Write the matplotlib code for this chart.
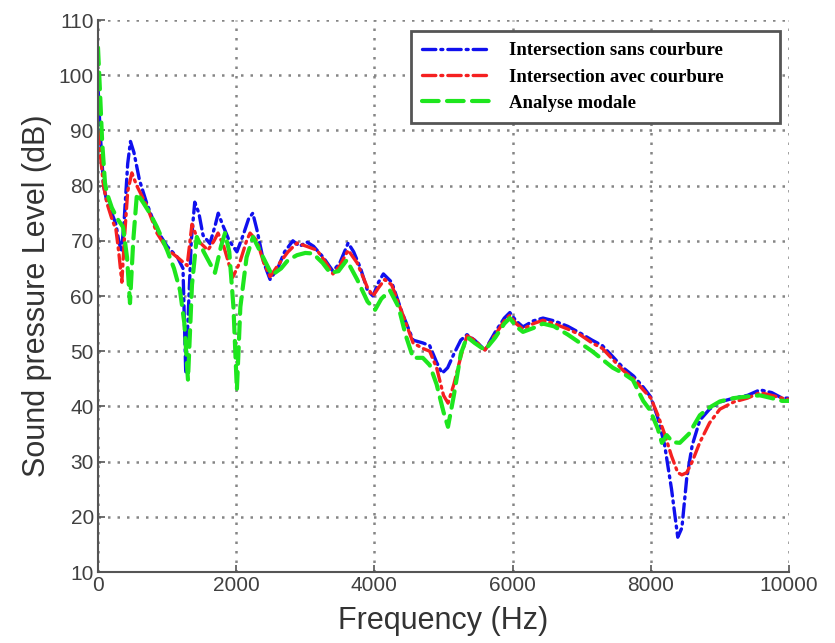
import matplotlib
matplotlib.use("Agg")
import matplotlib.pyplot as plt

# ---------------- data ----------------
blue_f = [0, 30, 80, 130, 200, 260, 300, 340, 380, 430, 470, 520, 600, 700, 850, 1000, 1150, 1230,
          1270, 1300, 1350, 1400, 1460, 1520, 1620, 1700, 1740, 1800, 1900, 2010, 2100, 2180, 2240,
          2300, 2400, 2490, 2600, 2700, 2820, 2920, 3020, 3120, 3260, 3400, 3500, 3620, 3700, 3800,
          3900, 3980, 4060, 4130, 4250, 4400, 4560, 4700, 4800, 4900, 4980, 5060, 5150, 5250, 5340,
          5450, 5600, 5750, 5880, 5960, 6050, 6150, 6300, 6440, 6600, 6800, 6975, 7150, 7300, 7450,
          7600, 7750, 7890, 8000, 8100, 8200, 8300, 8390, 8450, 8520, 8600, 8710, 8850, 9000, 9200,
          9400, 9580, 9750, 9900, 10000]
blue_v = [98, 90, 80, 77, 75, 73, 70, 68, 74, 84, 88, 86, 81, 77, 72, 69, 67, 65,
          46, 55, 70, 77, 75, 71, 69.5, 73, 75, 73, 70, 68, 71, 74, 75,
          72, 66, 63, 65, 68, 70, 69, 69.8, 69, 67, 64.5, 66, 69.6, 68, 65,
          61, 60, 62.5, 64, 62.5, 57, 52, 51.5, 51, 48, 46, 47, 49.5, 52, 53,
          52, 50.2, 53.5, 56, 57, 55.5, 54.4, 55.5, 56, 55.5, 54.5, 53.3, 52, 51, 49,
          47, 45.5, 43.5, 41.7, 38, 33, 25, 16.3, 18, 27, 33, 37.5, 39.5, 40.8, 41.5,
          42, 43, 42.5, 41.5, 41.5]

red_f = [0, 30, 80, 130, 200, 260, 300, 345, 380, 430, 490, 560, 700, 853, 1000, 1150, 1290, 1360,
         1450, 1590, 1680, 1737, 1820, 1950, 2050, 2150, 2200, 2300, 2400, 2490, 2600, 2750, 2880,
         3020, 3170, 3300, 3400, 3500, 3620, 3750, 3900, 3980, 4060, 4150, 4250, 4400, 4560, 4700,
         4800, 4900, 5000, 5065, 5150, 5250, 5340, 5450, 5600, 5750, 5880, 5960, 6050, 6150, 6300,
         6440, 6600, 6800, 6975, 7150, 7300, 7450, 7600, 7750, 7890, 8000, 8100, 8200, 8300, 8390,
         8450, 8520, 8600, 8710, 8850, 9000, 9200, 9400, 9580, 9750, 9900, 10000]
red_v = [90, 86, 80, 76.8, 74, 72, 68, 62.5, 70, 79, 82.3, 80, 76.5, 71.4, 68.5, 67, 65.5, 73,
         70, 68.3, 70, 71.4, 69, 63.4, 66, 70, 71.4, 70, 66, 63.5, 65.5, 68, 69.6,
         69, 68.3, 66, 64, 65.5, 68.3, 66, 61.5, 60, 61.5, 63, 62, 57, 51.5, 50.5,
         50, 47, 42, 40.6, 44, 49, 52.8, 52, 50.2, 53, 55.5, 56.5, 55, 54, 55,
         55.6, 55, 54, 53, 51.5, 50.5, 48.5, 46.5, 45, 43, 41.5, 38.5, 35, 31, 28,
         27.6, 28, 30, 33.5, 37, 39.5, 40.8, 41.5, 42.5, 42, 41.5, 41.3]

green_f = [0, 29, 60, 101, 130, 200, 280, 362, 420, 463, 510, 564, 650, 750, 853, 1000, 1100, 1187,
           1250, 1302, 1360, 1430, 1530, 1693, 1780, 1838, 1900, 1960, 2010, 2060, 2150, 2243, 2350,
           2518, 2650, 2750, 2880, 3000, 3110, 3250, 3360, 3480, 3600, 3750, 3900, 4010, 4100, 4225,
           4350, 4450, 4560, 4700, 4800, 4900, 5000, 5065, 5150, 5250, 5340, 5450, 5600, 5750, 5880,
           5960, 6050, 6150, 6300, 6440, 6600, 6800, 6975, 7150, 7300, 7450, 7600, 7740, 7890, 7990,
           8100, 8160, 8230, 8320, 8420, 8550, 8710, 8850, 9000, 9200, 9400, 9580, 9750, 9900, 10000]
green_v = [105, 97, 88, 80.5, 78.6, 76, 74, 72.5, 67, 58.7, 70, 78.6, 77, 75, 72.5, 68.3, 65, 61,
           55, 44.8, 62, 70.7, 68, 64.2, 69, 71.4, 68, 58, 43, 58, 67, 70.7, 68,
           63.8, 65, 66.5, 67.4, 67.8, 67.7, 66, 64.2, 64.5, 66.5, 63, 59, 57.5, 59.5, 61,
           58, 53, 48.8, 48.8, 47.5, 44, 39, 36.3, 42, 49.5, 52.6, 51.5, 50.2, 52.5, 55,
           56, 54.5, 53.5, 54.2, 55, 54.5, 53, 51.5, 50, 48.5, 47, 46, 44.8, 41, 39.3,
           36, 33.4, 34.8, 33.5, 33.4, 35, 38.4, 39.8, 40.9, 41.5, 41.8, 42, 41.5, 41, 41]

labels = ["Intersection sans courbure", "Intersection avec courbure", "Analyse modale"]
xticks = [0, 2000, 4000, 6000, 8000, 10000]
yticks = [10, 20, 30, 40, 50, 60, 70, 80, 90, 100, 110]

# ---------------- figure ----------------
fig = plt.figure(figsize=(8.35, 6.43), dpi=100)
ax = fig.add_axes([98 / 835, 1 - 572 / 643, (789 - 98) / 835, (572 - 20) / 643])

lw = 2.4
ax.plot(blue_f, blue_v, color="#1010ee", lw=lw, linestyle=(0, (4.0, 1.5, 0.6, 1.5)),
        dash_capstyle="round", label=labels[0])
ax.plot(red_f, red_v, color="#f52020", lw=lw, linestyle=(0, (4.0, 1.5, 0.6, 1.5)),
        dash_capstyle="round", label=labels[1])
ax.plot(green_f, green_v, color="#1ee61e", lw=3.0, linestyle=(0, (4.0, 2.0)),
        dash_capstyle="round", label=labels[2])

ax.set_xlim(0, 10000)
ax.set_ylim(10, 110)
ax.set_xticks(xticks)
ax.set_yticks(yticks)
ax.set_xticklabels([str(t) for t in xticks])
ax.set_yticklabels([str(t) for t in yticks])

ax.grid(True, color="#858585", linestyle=(0, (1, 2.8)), linewidth=1.8)
ax.set_axisbelow(True)

for s in ["top", "right"]:
    ax.spines[s].set_visible(False)
for s in ["left", "bottom"]:
    ax.spines[s].set_color("#555555")
    ax.spines[s].set_linewidth(1.5)

tick_font = dict(family=["Liberation Sans", "DejaVu Sans"], size=15)
ax.tick_params(direction="in", length=5, width=1.2, color="#555555", labelcolor="#404040",
               pad=3)
for t in ax.get_xticklabels() + ax.get_yticklabels():
    t.set_fontfamily(tick_font["family"])
    t.set_fontsize(tick_font["size"])

ax.set_xlabel("Frequency (Hz)", fontsize=22, family=["Liberation Sans", "DejaVu Sans"],
              color="#333333", labelpad=8)
ax.set_ylabel("Sound pressure Level (dB)", fontsize=22, family=["Liberation Sans", "DejaVu Sans"],
              color="#333333", labelpad=5)

leg = ax.legend(loc="upper left", bbox_to_anchor=(0.453, 0.804, 0.534, 0.176), mode="expand",
                borderaxespad=0,
                prop=dict(family=["Liberation Serif", "DejaVu Serif"], weight="bold", size=13.5),
                handlelength=3.6, handletextpad=1.0, labelspacing=0.48, borderpad=0.6,
                fancybox=False, framealpha=1, edgecolor="#555555")
leg.get_frame().set_linewidth(2)

fig.savefig("out.png", dpi=100)
